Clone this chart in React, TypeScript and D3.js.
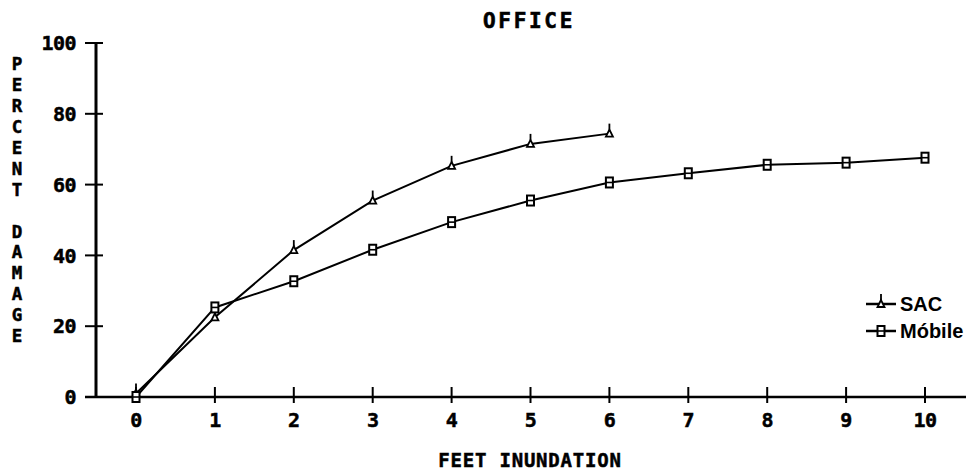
import React from "react";
import * as d3 from "d3";

const title = "OFFICE";
const xLabel = "FEET INUNDATION";
const yLabel = "PERCENT DAMAGE";
const xTicks = [0, 1, 2, 3, 4, 5, 6, 7, 8, 9, 10];
const yTicks = [0, 20, 40, 60, 80, 100];
const sacFeet = [0, 1, 2, 3, 4, 5, 6];
const sacValues = [1, 22.5, 41.5, 55.5, 65.3, 71.5, 74.4];
const mobileFeet = [0, 1, 2, 3, 4, 5, 6, 7, 8, 9, 10];
const mobileValues = [0, 25.3, 32.7, 41.6, 49.4, 55.5, 60.6, 63.2, 65.6, 66.2, 67.6];
const seriesNames = ["SAC", "Móbile"];

const MONO = "'DejaVu Sans Mono', monospace";
const SANS = "'Liberation Sans', Arial, sans-serif";

function Tri({ x, y }: { x: number; y: number }) {
  return (
    <g transform={`translate(${x},${y})`}>
      <line x1={0} y1={-4} x2={0} y2={-10} stroke="#000" strokeWidth={1.8} />
      <path d="M0,-4 L-3.5,3 L3.5,3 Z" fill="#fff" stroke="#000" strokeWidth={1.8} />
    </g>
  );
}

function Sq({ x, y }: { x: number; y: number }) {
  return (
    <g transform={`translate(${x},${y})`}>
      <rect x={-3.5} y={-5} width={7} height={10} fill="#fff" stroke="#000" strokeWidth={2} />
      <line x1={-3.5} y1={0} x2={3.5} y2={0} stroke="#000" strokeWidth={1.6} />
    </g>
  );
}

export default function App() {
  const W = 966;
  const H = 473;
  const x = d3.scaleLinear().domain([0, 10]).range([136, 925]);
  const y = d3.scaleLinear().domain([0, 100]).range([397, 43]);
  const axisX = 96;

  const line = d3
    .line<[number, number]>()
    .x((d) => x(d[0]))
    .y((d) => y(d[1]));

  const sac: [number, number][] = sacFeet.map((f, i) => [f, sacValues[i]]);
  const mob: [number, number][] = mobileFeet.map((f, i) => [f, mobileValues[i]]);

  const legY = [304, 331];

  return (
    <svg
      width={W}
      height={H}
      style={{ position: "absolute", left: 0, top: 0, background: "#fff" }}
    >
      <rect width={W} height={H} fill="#fff" />
      {/* title */}
      <text
        x={529}
        y={28}
        textAnchor="middle"
        fontFamily={MONO}
        fontWeight="bold"
        fontSize={21}
        letterSpacing={2.7}
        stroke="#000"
        strokeWidth={0.6}
      >
        {title}
      </text>

      {/* y axis */}
      <line x1={axisX} y1={y(100)} x2={axisX} y2={y(0)} stroke="#000" strokeWidth={3} />
      {yTicks.map((t) => (
        <g key={t}>
          <line x1={85} x2={103} y1={y(t)} y2={y(t)} stroke="#000" strokeWidth={2} />
          <text
            x={76}
            y={y(t)}
            dy="0.36em"
            textAnchor="end"
            fontFamily={MONO}
            fontWeight="bold"
            fontSize={20}
            letterSpacing={-0.5}
            stroke="#000"
            strokeWidth={0.5}
          >
            {t}
          </text>
        </g>
      ))}

      {/* x axis */}
      <line x1={85} x2={966} y1={y(0)} y2={y(0)} stroke="#000" strokeWidth={2.5} />
      {xTicks.map((t) => (
        <g key={t}>
          <line x1={x(t)} x2={x(t)} y1={387} y2={403} stroke="#000" strokeWidth={2} />
          <text
            x={x(t)}
            y={427}
            textAnchor="middle"
            fontFamily={MONO}
            fontWeight="bold"
            fontSize={20}
            letterSpacing={-0.5}
            stroke="#000"
            strokeWidth={0.5}
          >
            {t}
          </text>
        </g>
      ))}

      {/* x label */}
      <text
        x={530}
        y={467}
        textAnchor="middle"
        fontFamily={MONO}
        fontWeight="bold"
        fontSize={19}
        letterSpacing={0.8}
        stroke="#000"
        strokeWidth={0.5}
      >
        {xLabel}
      </text>

      {/* y label, stacked letters */}
      {yLabel.split("").map((c, i) => (
        <text
          key={i}
          x={17}
          y={64 + i * 20.9}
          dy="0.36em"
          textAnchor="middle"
          fontFamily={MONO}
          fontWeight="bold"
          fontSize={17.5}
          stroke="#000"
          strokeWidth={0.5}
        >
          {c}
        </text>
      ))}

      {/* data lines */}
      <path d={line(sac) || ""} fill="none" stroke="#000" strokeWidth={2} />
      <path d={line(mob) || ""} fill="none" stroke="#000" strokeWidth={2} />
      {sac.map((d, i) => (
        <Tri key={"s" + i} x={x(d[0])} y={y(d[1])} />
      ))}
      {mob.map((d, i) => (
        <Sq key={"m" + i} x={x(d[0])} y={y(d[1])} />
      ))}

      {/* legend */}
      {seriesNames.map((n, i) => (
        <g key={n}>
          <line x1={866} x2={896} y1={legY[i]} y2={legY[i]} stroke="#000" strokeWidth={2.5} />
          {i === 0 ? <Tri x={881} y={legY[i]} /> : <Sq x={881} y={legY[i]} />}
          <text
            x={900}
            y={legY[i]}
            dy="0.36em"
            fontFamily={SANS}
            fontWeight="bold"
            fontSize={20}
          >
            {n}
          </text>
        </g>
      ))}
    </svg>
  );
}
